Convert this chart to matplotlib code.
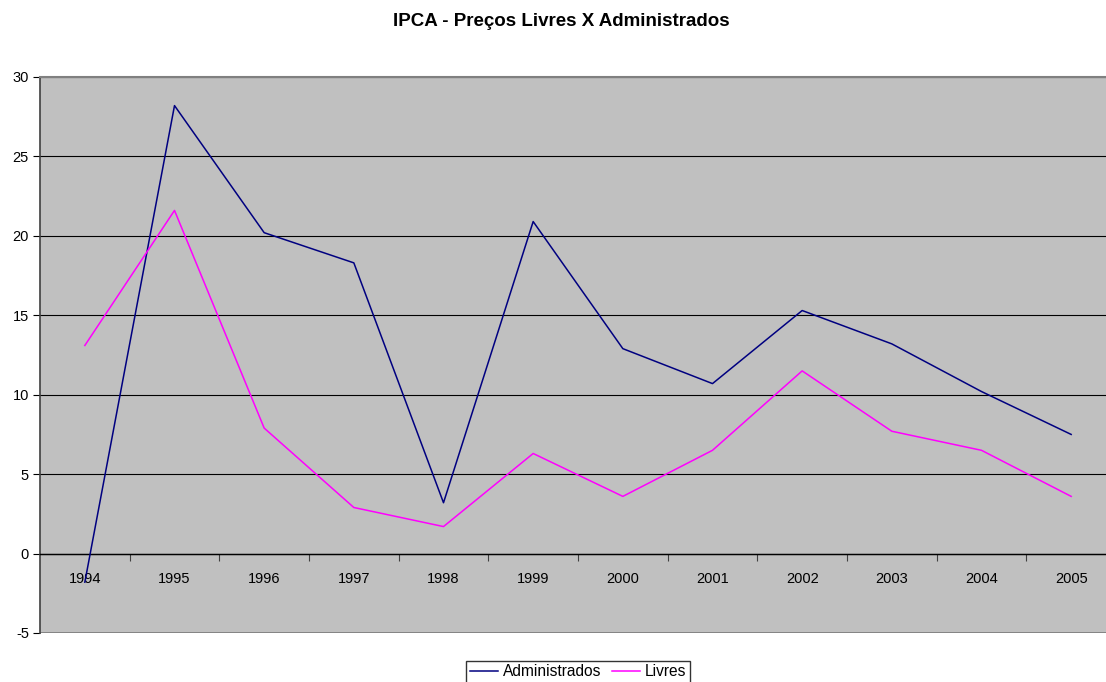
import matplotlib.pyplot as plt
import numpy as np

plt.rcParams['font.family'] = ['Liberation Sans', 'DejaVu Sans']
plt.rcParams['axes.unicode_minus'] = False

anos = ['1994', '1995', '1996', '1997', '1998', '1999', '2000',
        '2001', '2002', '2003', '2004', '2005']
administrados = [-1.8, 28.2, 20.2, 18.3, 3.2, 20.9, 12.9, 10.7, 15.3, 13.2, 10.2, 7.5]
livres = [13.1, 21.6, 7.9, 2.9, 1.7, 6.3, 3.6, 6.5, 11.5, 7.7, 6.5, 3.6]

W, H = 1106, 682
fig = plt.figure(figsize=(W / 100, H / 100), dpi=100)
fig.patch.set_facecolor('white')

# plot area runs a bit past the right edge, like the original export
ax = fig.add_axes([40 / W, (H - 633) / H, 1076 / W, 556 / H])
ax.set_facecolor('#C0C0C0')

x = np.arange(len(anos))
ax.plot(x, administrados, color='#000080', lw=1.1, label='Administrados', zorder=3)
ax.plot(x, livres, color='#FF00FF', lw=1.1, label='Livres', zorder=3)

ax.set_xlim(-0.5, len(anos) - 0.5)
ax.set_ylim(-5, 30)
ax.set_yticks(np.arange(-5, 31, 5))
ax.yaxis.grid(True, color='black', lw=0.8)
ax.set_axisbelow(True)
ax.tick_params(axis='y', length=5, width=0.8, labelsize=10.5, pad=3)

# gray border at the bottom of the plot area
ax.axhline(-5, color='#808080', lw=2.0, zorder=2)

# category axis sits on zero, ticks between categories
ax.spines['bottom'].set_position(('data', 0))
ax.spines['bottom'].set_color('black')
ax.spines['bottom'].set_linewidth(1.0)
ax.set_xticks(x[:-1] + 0.5)
ax.set_xticklabels([])
ax.set_xticks(x, minor=True)
ax.set_xticklabels(anos, minor=True)
ax.tick_params(axis='x', which='major', length=5, width=0.8, direction='out', colors='#404040')
ax.tick_params(axis='x', which='minor', length=0, labelsize=10.5, pad=13, labelcolor='black')

ax.spines['left'].set_color('#404040')
ax.spines['left'].set_linewidth(1.2)
for s in ['top', 'right']:
    ax.spines[s].set_color('#808080')
    ax.spines[s].set_linewidth(1.5)

fig.text(561 / W, 1 - 22 / H, 'IPCA - Preços Livres X Administrados',
         fontsize=13.5, fontweight='bold', ha='center', va='center')

leg = ax.legend(loc='center', bbox_to_anchor=(0.5, -0.07), ncol=2, frameon=True,
                fancybox=False, fontsize=11.2, handlelength=1.8, handletextpad=0.3,
                columnspacing=0.7, borderpad=0.25, borderaxespad=0)
leg.get_frame().set_edgecolor('black')
leg.get_frame().set_linewidth(1.0)

fig.savefig('out.png', dpi=100)
